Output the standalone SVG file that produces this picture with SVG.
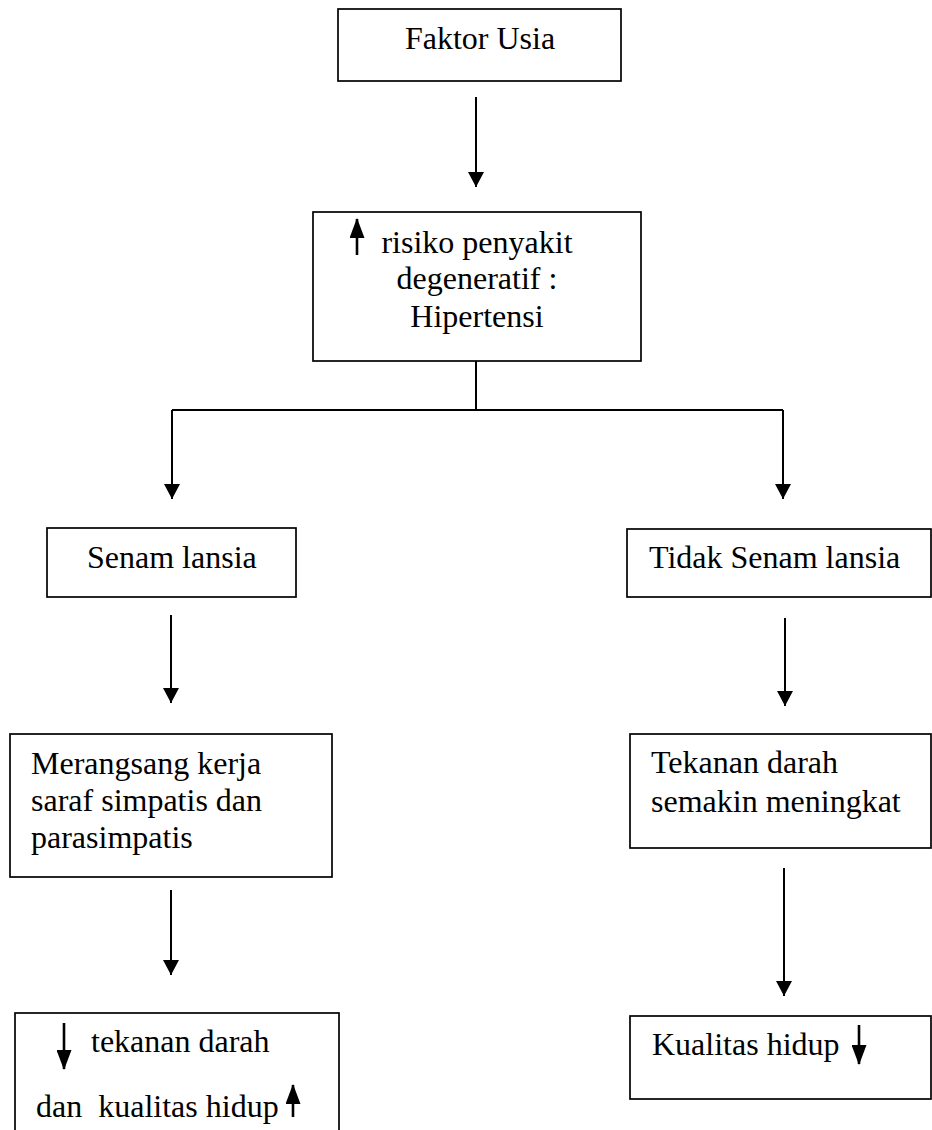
<svg xmlns="http://www.w3.org/2000/svg" width="932" height="1130" viewBox="0 0 932 1130">
<style>
.box{fill:#fff;stroke:#000;stroke-width:1.7}
.t{font-family:"Liberation Serif","Times New Roman",serif;font-size:32px;fill:#000;white-space:pre}
.c{fill:none;stroke:#000;stroke-width:2}
.s{fill:none;stroke:#000;stroke-width:2.6}
.m{text-anchor:middle}
</style>
<defs>
<marker id="dn" markerUnits="userSpaceOnUse" markerWidth="16" markerHeight="16" viewBox="0 0 16 16" refX="8" refY="15" orient="0">
<path d="M0,0 L16,0 L8,15 Z" fill="#000"/>
</marker>
<marker id="up" markerUnits="userSpaceOnUse" markerWidth="15" markerHeight="20" viewBox="0 0 15 20" refX="7.5" refY="1" orient="0">
<path d="M0,20 L15,20 L7.5,0 Z" fill="#000"/>
</marker>
<marker id="dn2" markerUnits="userSpaceOnUse" markerWidth="15" markerHeight="20" viewBox="0 0 15 20" refX="7.5" refY="19" orient="0">
<path d="M0,0 L15,0 L7.5,20 Z" fill="#000"/>
</marker>
</defs>
<rect width="932" height="1130" fill="#fff"/>
<g id="connectors">
<line class="c" x1="476" y1="97" x2="476" y2="187" marker-end="url(#dn)"/>
<path class="c" d="M476,361 V410"/>
<path class="c" d="M172,410 H783"/>
<line class="c" x1="172" y1="410" x2="172" y2="499" marker-end="url(#dn)"/>
<line class="c" x1="783" y1="410" x2="783" y2="499" marker-end="url(#dn)"/>
<line class="c" x1="171" y1="615" x2="171" y2="703" marker-end="url(#dn)"/>
<line class="c" x1="785" y1="618" x2="785" y2="706" marker-end="url(#dn)"/>
<line class="c" x1="171" y1="890" x2="171" y2="975" marker-end="url(#dn)"/>
<line class="c" x1="784" y1="868" x2="784" y2="996" marker-end="url(#dn)"/>
</g>
<g id="faktor-usia">
<rect class="box" x="338" y="9" width="283" height="72"/>
<text class="t m" x="480" y="49">Faktor Usia</text>
</g>
<g id="risiko">
<rect class="box" x="313" y="212" width="328" height="149"/>
<line class="s" x1="357" y1="255" x2="357" y2="219" marker-end="url(#up)"/>
<text class="t m" x="477" y="253">risiko penyakit</text>
<text class="t m" x="477" y="289">degeneratif :</text>
<text class="t m" x="477" y="327">Hipertensi</text>
</g>
<g id="senam">
<rect class="box" x="47" y="528" width="249" height="69"/>
<text class="t" x="87" y="568">Senam lansia</text>
</g>
<g id="tidak-senam">
<rect class="box" x="627" y="529" width="304" height="68"/>
<text class="t" x="649" y="568">Tidak Senam lansia</text>
</g>
<g id="merangsang">
<rect class="box" x="10" y="734" width="322" height="143"/>
<text class="t" x="31" y="774">Merangsang kerja</text>
<text class="t" x="31" y="811">saraf simpatis dan</text>
<text class="t" x="31" y="848">parasimpatis</text>
</g>
<g id="tekanan-meningkat">
<rect class="box" x="630" y="734" width="301" height="114"/>
<text class="t" x="651" y="773">Tekanan darah</text>
<text class="t" x="651" y="812">semakin meningkat</text>
</g>
<g id="tekanan-turun">
<rect class="box" x="15" y="1013" width="324" height="130"/>
<line class="s" x1="64" y1="1023" x2="64" y2="1069" marker-end="url(#dn2)"/>
<text class="t" x="91" y="1052">tekanan darah</text>
<text class="t" x="36" y="1117">dan  kualitas hidup</text>
<line class="s" x1="293" y1="1117" x2="293" y2="1085" marker-end="url(#up)"/>
</g>
<g id="kualitas-turun">
<rect class="box" x="630" y="1016" width="301" height="83"/>
<text class="t" x="652" y="1055">Kualitas hidup</text>
<line class="s" x1="859" y1="1025" x2="859" y2="1064" marker-end="url(#dn2)"/>
</g>
</svg>
